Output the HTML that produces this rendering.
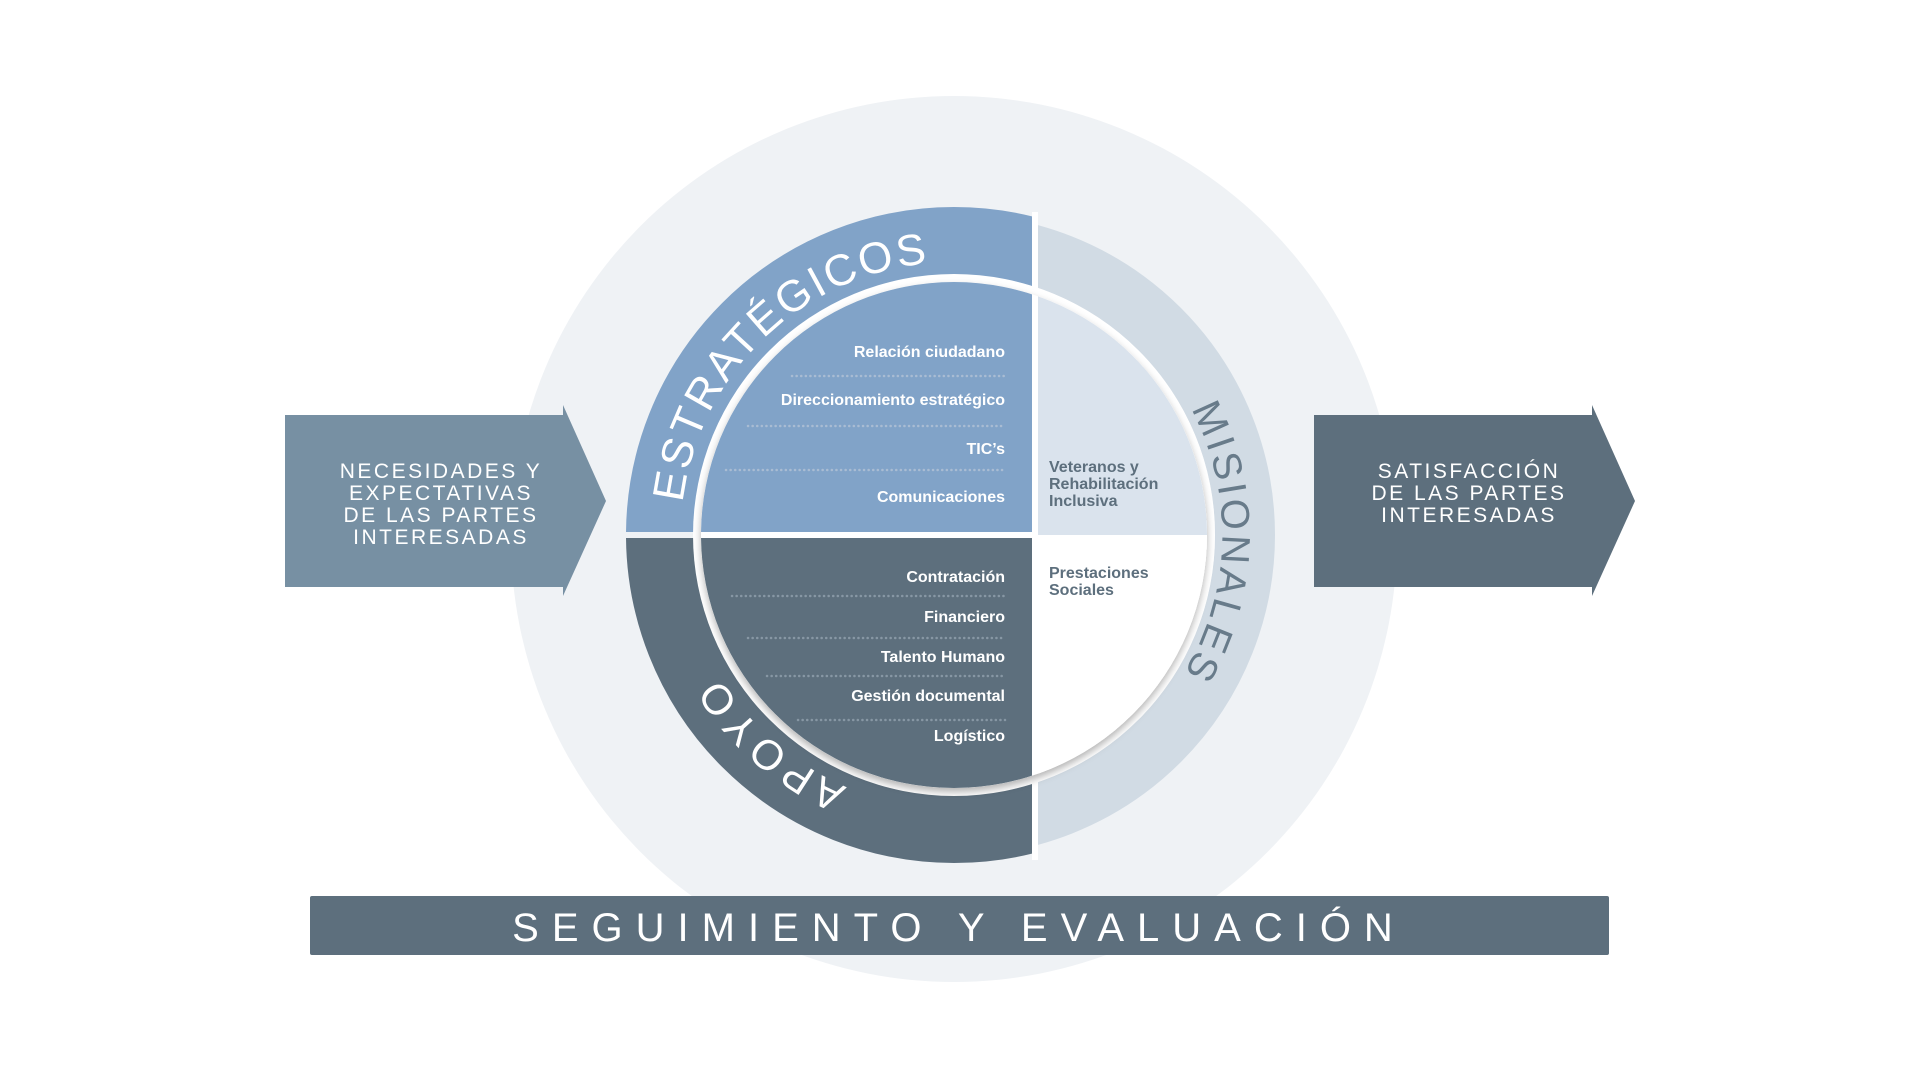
<!DOCTYPE html>
<html><head><meta charset="utf-8"><style>
html,body{margin:0;padding:0;background:#fff;}
svg{display:block;}
text{font-family:"Liberation Sans","DejaVu Sans",sans-serif;}
</style></head><body>
<svg width="1920" height="1080" viewBox="0 0 1920 1080" xmlns="http://www.w3.org/2000/svg">
<defs>
<clipPath id="tl"><rect x="0" y="0" width="1032" height="532"/></clipPath>
<clipPath id="bl"><rect x="0" y="538" width="1032" height="600"/></clipPath>
<clipPath id="tr"><rect x="1038" y="0" width="900" height="535"/></clipPath>
<clipPath id="br"><rect x="1038" y="535" width="900" height="600"/></clipPath>
<clipPath id="rr"><rect x="1038" y="0" width="900" height="1080"/></clipPath>
<filter id="sh" x="-20%" y="-20%" width="140%" height="140%"><feDropShadow dx="0" dy="4" stdDeviation="4" flood-color="#000" flood-opacity="0.3"/></filter>
<path id="pS" d="M 682.6 502.7 A 273 273 0 0 1 946 262.1"/>
<path id="pM" d="M 1191 409 A 268 268 0 0 1 1186 669"/>
<path id="pA" d="M 847 787 A 274 274 0 0 1 706 651"/>
</defs>
<circle cx="954" cy="539" r="443" fill="#eff2f5"/>
<polygon points="285,415 563,415 563,405 606,501 563,596 563,587 285,587" fill="#7790a3"/>
<polygon points="1314,415 1592,415 1592,405 1635,501 1592,596 1592,587 1314,587" fill="#5d6f7d"/>
<circle cx="954" cy="535" r="294" fill="none" stroke="#81a3c8" stroke-width="68" clip-path="url(#tl)"/>
<circle cx="954" cy="535" r="294" fill="none" stroke="#5d6f7d" stroke-width="68" clip-path="url(#bl)"/>
<circle cx="954" cy="535" r="291" fill="none" stroke="#d1dbe4" stroke-width="60" clip-path="url(#rr)"/>
<rect x="1032" y="212" width="6" height="648" fill="#fff"/>
<circle cx="954" cy="535" r="261" fill="#fff"/>
<circle cx="954" cy="535" r="253" fill="#fff" filter="url(#sh)"/>
<circle cx="954" cy="535" r="253" fill="#81a3c8" clip-path="url(#tl)"/>
<circle cx="954" cy="535" r="253" fill="#5d6f7d" clip-path="url(#bl)"/>
<circle cx="954" cy="535" r="253" fill="#dae3ed" clip-path="url(#tr)"/>
<circle cx="954" cy="535" r="253" fill="#fff" clip-path="url(#br)"/>
<g fill="#fff" font-size="16" font-weight="bold" text-anchor="end">
<text x="1005" y="357">Relación ciudadano</text>
<text x="1005" y="405">Direccionamiento estratégico</text>
<text x="1005" y="454">TIC’s</text>
<text x="1005" y="502">Comunicaciones</text>
<text x="1005" y="582">Contratación</text>
<text x="1005" y="622">Financiero</text>
<text x="1005" y="662">Talento Humano</text>
<text x="1005" y="701">Gestión documental</text>
<text x="1005" y="741">Logístico</text>
</g>
<g stroke="#a9bcd3" stroke-width="2.5" stroke-linecap="round" stroke-dasharray="0.1 4.5">
<line x1="792" y1="376" x2="1005" y2="376"/>
<line x1="748" y1="426" x2="1005" y2="426"/>
<line x1="726" y1="470" x2="1005" y2="470"/>
</g>
<g stroke="#8797a4" stroke-width="2.5" stroke-linecap="round" stroke-dasharray="0.1 4.5">
<line x1="732" y1="596" x2="1005" y2="596"/>
<line x1="748" y1="638" x2="1005" y2="638"/>
<line x1="767" y1="676" x2="1005" y2="676"/>
<line x1="798" y1="720" x2="1005" y2="720"/>
</g>
<g fill="#5d6f7d" font-size="16" font-weight="bold">
<text x="1049" y="472">Veteranos y</text>
<text x="1049" y="489">Rehabilitación</text>
<text x="1049" y="506">Inclusiva</text>
<text x="1049" y="578">Prestaciones</text>
<text x="1049" y="595">Sociales</text>
</g>
<text font-size="44" fill="#fff"><textPath href="#pS" textLength="370" lengthAdjust="spacing">ESTRATÉGICOS</textPath></text>
<text font-size="40" fill="#687b8a"><textPath href="#pM" textLength="275" lengthAdjust="spacing">MISIONALES</textPath></text>
<text font-size="42" fill="#fff"><textPath href="#pA" textLength="170" lengthAdjust="spacing">APOYO</textPath></text>
<g fill="#fff" font-size="21" text-anchor="middle" letter-spacing="2.5">
<text x="441" y="478">NECESIDADES Y</text>
<text x="441" y="500">EXPECTATIVAS</text>
<text x="441" y="522">DE LAS PARTES</text>
<text x="441" y="544">INTERESADAS</text>
<text x="1469" y="478">SATISFACCIÓN</text>
<text x="1469" y="500">DE LAS PARTES</text>
<text x="1469" y="522">INTERESADAS</text>
</g>
<rect x="310" y="896" width="1299" height="59" rx="2" fill="#5d6f7d"/>
<text x="959" y="941" fill="#fff" font-size="40" text-anchor="middle" letter-spacing="13">SEGUIMIENTO Y EVALUACIÓN</text>
</svg>
</body></html>
